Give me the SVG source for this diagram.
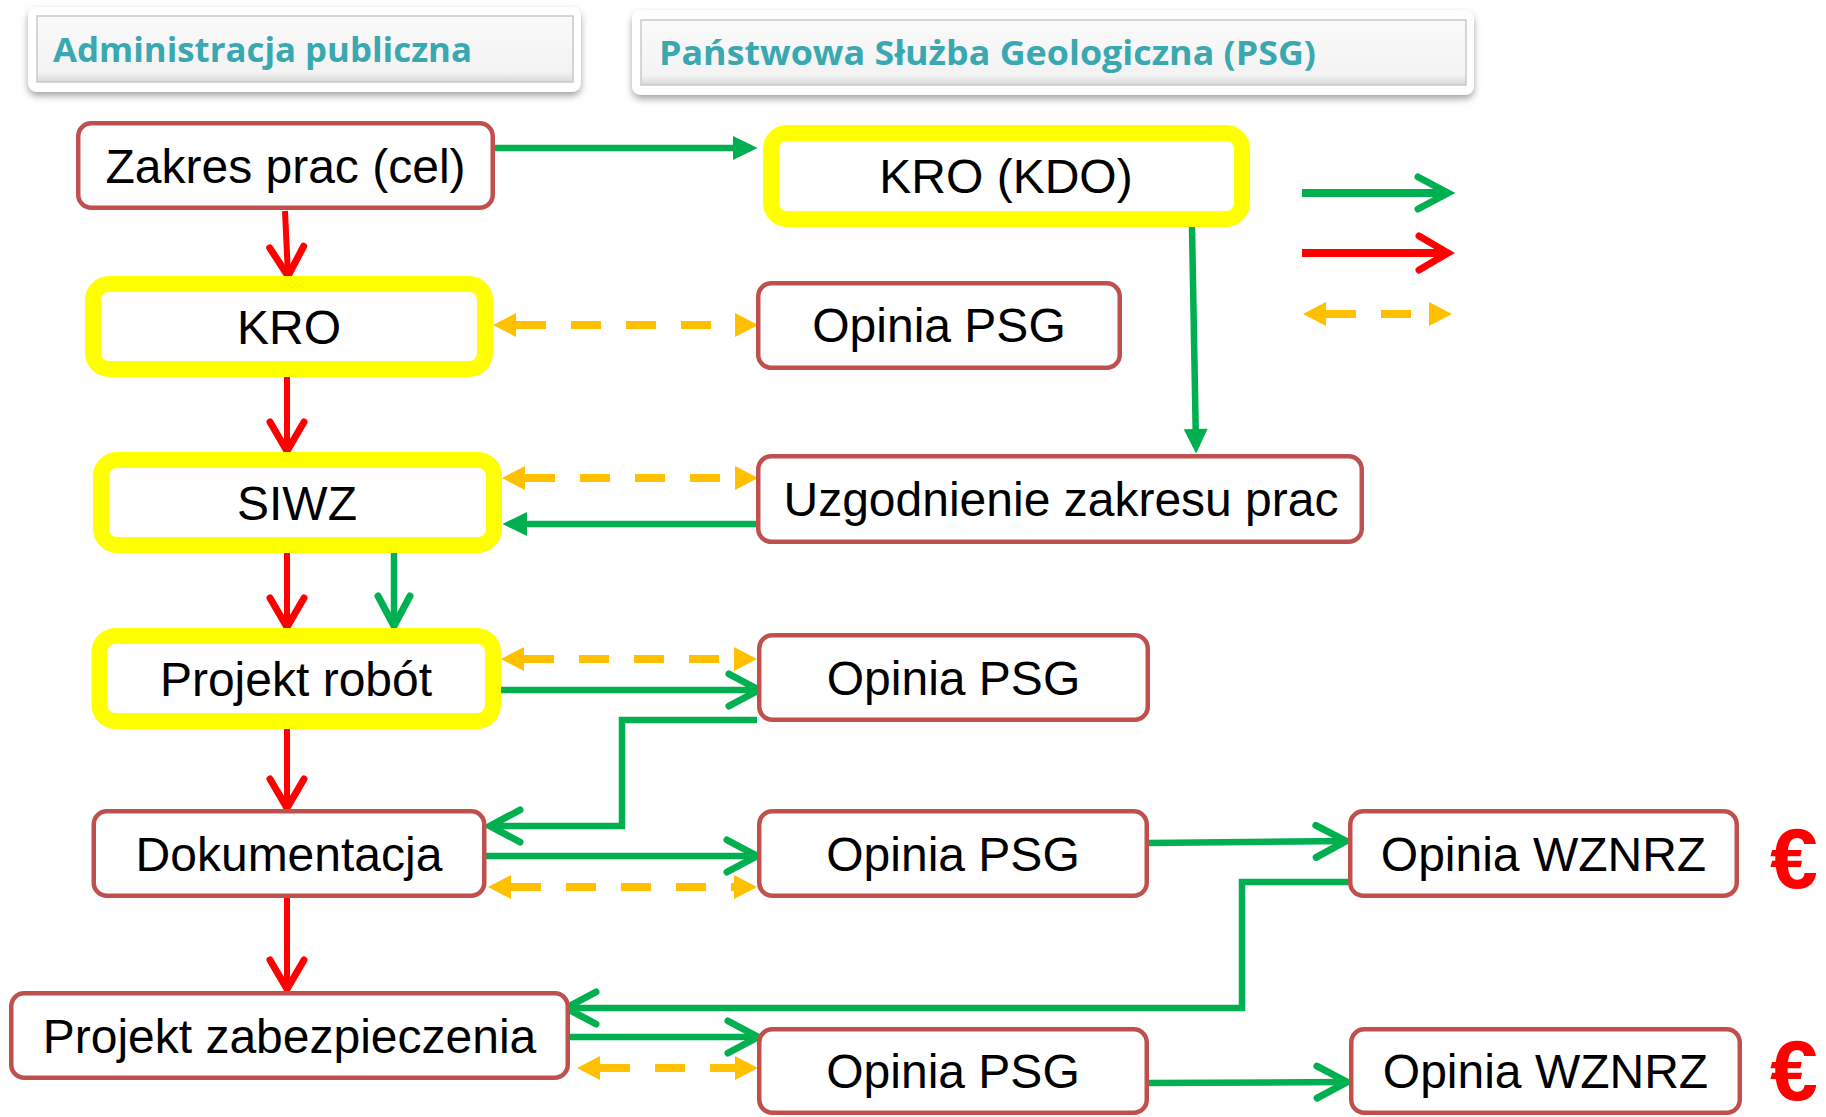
<svg xmlns="http://www.w3.org/2000/svg" width="1826" height="1117" viewBox="0 0 1826 1117">
<style>
.n{fill:#fff;stroke:#C0504D;stroke-width:4.5}
.y{fill:#fff;stroke:#FFFF00;stroke-width:16}
.t{font-family:"Liberation Sans",Arial,sans-serif;font-size:48px;fill:#000;text-anchor:middle}
.h{font-family:"Open Sans","Lato",sans-serif;font-weight:bold;font-size:34px;fill:#3AA8B1}
.hout{fill:#fff;filter:url(#sh)}
.hin{fill:url(#bev);stroke:#C9C9C9;stroke-width:1.5}
.gc{fill:none;stroke:#00B050;stroke-width:6.5;marker-end:url(#chG)}
.gt{fill:none;stroke:#00B050;stroke-width:6.5;marker-end:url(#triG)}
.r{fill:none;stroke:#FF0000;stroke-width:6;marker-end:url(#chR)}
.o{fill:none;stroke:#FFC000;stroke-width:8;stroke-dasharray:30 25;marker-start:url(#triO);marker-end:url(#triO)}
.eur{font-family:"Liberation Sans",Arial,sans-serif;font-weight:bold;font-size:86px;fill:#FF0000}
</style>
<defs>
<filter id="sh" x="-10%" y="-20%" width="120%" height="160%">
<feDropShadow dx="0" dy="4" stdDeviation="3.5" flood-color="#000" flood-opacity="0.35"/>
</filter>
<linearGradient id="bev" x1="0" y1="0" x2="0" y2="1">
<stop offset="0" stop-color="#FAFAFA"/>
<stop offset="0.85" stop-color="#F3F3F3"/>
<stop offset="1" stop-color="#D8D8D8"/>
</linearGradient>
<marker id="chG" markerUnits="userSpaceOnUse" markerWidth="60" markerHeight="60" refX="0" refY="0" viewBox="-40 -30 60 60" orient="auto" overflow="visible">
<path d="M-30 -16 L0 0 L-30 16" fill="none" stroke="#00B050" stroke-width="7" stroke-linecap="round" stroke-linejoin="miter"/>
</marker>
<marker id="chR" markerUnits="userSpaceOnUse" markerWidth="60" markerHeight="60" refX="0" refY="0" viewBox="-40 -30 60 60" orient="auto" overflow="visible">
<path d="M-29 -17 L0 0 L-29 17" fill="none" stroke="#FF0000" stroke-width="7" stroke-linecap="round" stroke-linejoin="miter"/>
</marker>
<marker id="triG" markerUnits="userSpaceOnUse" markerWidth="60" markerHeight="60" refX="0" refY="0" viewBox="-40 -30 60 60" orient="auto" overflow="visible">
<path d="M-18 -12 L6.5 0 L-18 12 Z" fill="#00B050"/>
</marker>
<marker id="triO" markerUnits="userSpaceOnUse" markerWidth="60" markerHeight="60" refX="0" refY="0" viewBox="-30 -30 60 60" orient="auto-start-reverse" overflow="visible">
<path d="M0 -12 L23 0 L0 12 Z" fill="#FFC000"/>
</marker>
</defs>

<g id="header-admin">
<rect class="hout" x="28" y="7" width="553" height="85" rx="9"/>
<rect class="hin" x="37" y="16" width="536" height="66"/>
<text class="h" x="53" y="62" textLength="419" lengthAdjust="spacingAndGlyphs">Administracja publiczna</text>
</g>
<g id="header-psg">
<rect class="hout" x="632" y="10" width="842" height="85" rx="9"/>
<rect class="hin" x="641" y="20" width="825" height="65"/>
<text class="h" x="659" y="65" textLength="657" lengthAdjust="spacingAndGlyphs">Państwowa Służba Geologiczna (PSG)</text>
</g>

<g id="connectors">
<path class="r" d="M285 211 L288 276"/>
<path class="r" d="M287 377 L287 451"/>
<path class="r" d="M287 553 L287 627"/>
<path class="r" d="M287 729 L287 808"/>
<path class="r" d="M287 898 L287 989"/>

<path class="gt" d="M495 148 L751 148"/>
<path class="gt" d="M1192 227 L1196 447"/>
<path class="gt" d="M756 524 L509 524"/>

<path class="gc" d="M394 553 L394 626"/>
<path class="gc" d="M501 690 L759 690"/>
<path class="gc" d="M757 720 L622 720 L622 826 L490 826"/>
<path class="gc" d="M486 856 L757 856"/>
<path class="gc" d="M1149 843 L1346 841"/>
<path class="gc" d="M1348 882 L1242 882 L1242 1008 L566 1008"/>
<path class="gc" d="M568 1037 L758 1037"/>
<path class="gc" d="M1149 1083 L1347 1082"/>

<path class="o" d="M516 325 L735 325"/>
<path class="o" d="M525 478 L735 478"/>
<path class="o" d="M524 659 L734 659"/>
<path class="o" d="M511 887 L734 887"/>
<path class="o" d="M600 1068 L735 1068"/>
</g>

<g id="legend">
<path class="gc" style="stroke-width:8" d="M1302 193 L1448 193"/>
<path class="r" style="stroke-width:8" d="M1302 253 L1448 253"/>
<path class="o" d="M1326 314 L1429 314"/>
</g>

<g id="node-zakres">
<rect class="n" x="78.25" y="123.25" width="414.5" height="84.5" rx="13"/>
<text class="t" x="285.5" y="183">Zakres prac (cel)</text>
</g>
<g id="node-kro-kdo">
<rect class="y" x="771" y="133" width="471" height="86" rx="16"/>
<text class="t" x="1006" y="193">KRO (KDO)</text>
</g>
<g id="node-kro">
<rect class="y" x="93" y="284" width="392" height="85" rx="16"/>
<text class="t" x="289" y="344">KRO</text>
</g>
<g id="node-siwz">
<rect class="y" x="101" y="460" width="393" height="85" rx="16"/>
<text class="t" x="297" y="520">SIWZ</text>
</g>
<g id="node-projekt-robot">
<rect class="y" x="99.5" y="636" width="393.5" height="85" rx="16"/>
<text class="t" x="296" y="696">Projekt robót</text>
</g>
<g id="node-dokumentacja">
<rect class="n" x="93.75" y="811.25" width="390.5" height="84.5" rx="13"/>
<text class="t" x="289" y="871">Dokumentacja</text>
</g>
<g id="node-projekt-zab">
<rect class="n" x="11.25" y="993.25" width="556.5" height="84.5" rx="13"/>
<text class="t" x="289.5" y="1053">Projekt zabezpieczenia</text>
</g>
<g id="node-opinia-psg-1">
<rect class="n" x="758.25" y="283.25" width="361.5" height="84.5" rx="13"/>
<text class="t" x="939" y="342">Opinia PSG</text>
</g>
<g id="node-uzgodnienie">
<rect class="n" x="758.25" y="456.25" width="603.5" height="85.5" rx="13"/>
<text class="t" x="1061" y="516">Uzgodnienie zakresu prac</text>
</g>
<g id="node-opinia-psg-2">
<rect class="n" x="759.25" y="635.25" width="388.5" height="84.5" rx="13"/>
<text class="t" x="953.5" y="695">Opinia PSG</text>
</g>
<g id="node-opinia-psg-3">
<rect class="n" x="759.25" y="811.25" width="387.5" height="84.5" rx="13"/>
<text class="t" x="953" y="871">Opinia PSG</text>
</g>
<g id="node-opinia-wznrz-1">
<rect class="n" x="1350.25" y="811.25" width="386.5" height="84.5" rx="13"/>
<text class="t" x="1543.5" y="871">Opinia WZNRZ</text>
</g>
<g id="node-opinia-psg-4">
<rect class="n" x="759.25" y="1029.25" width="387.5" height="83.5" rx="13"/>
<text class="t" x="953" y="1088">Opinia PSG</text>
</g>
<g id="node-opinia-wznrz-2">
<rect class="n" x="1351.25" y="1029.25" width="388.5" height="83.5" rx="13"/>
<text class="t" x="1545.5" y="1088">Opinia WZNRZ</text>
</g>

<text class="eur" x="1770" y="888">€</text>
<text class="eur" x="1770" y="1100">€</text>
</svg>
